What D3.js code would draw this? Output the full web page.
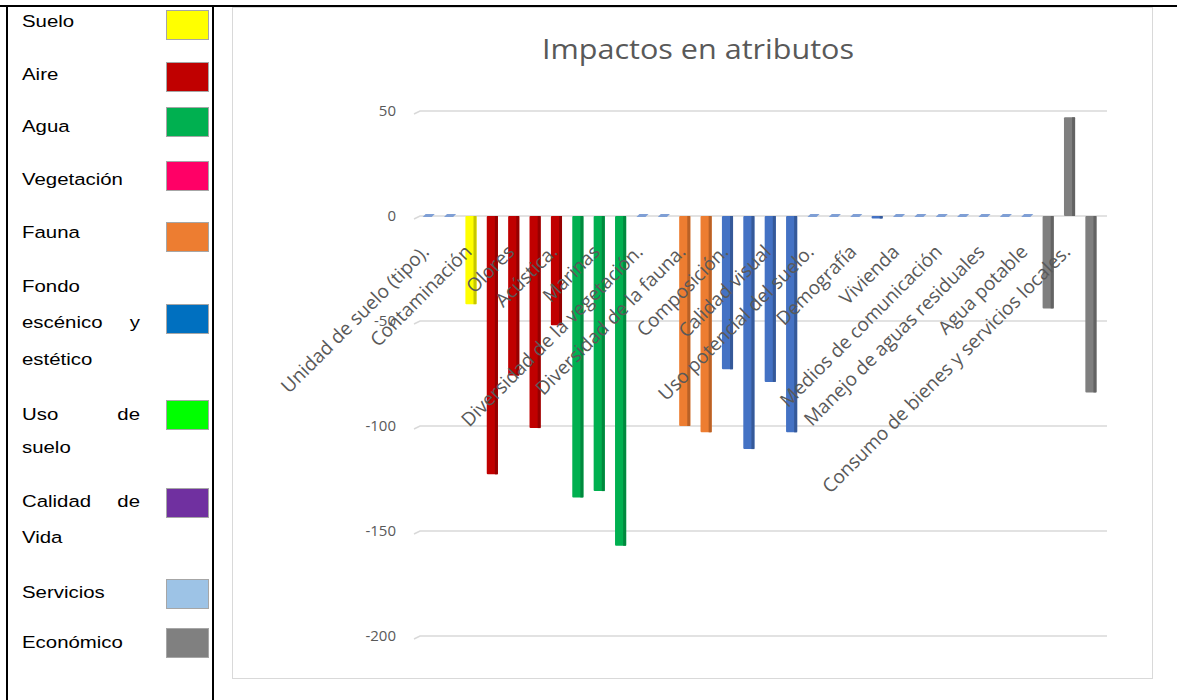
<!DOCTYPE html>
<html><head><meta charset="utf-8">
<script src="https://cdn.jsdelivr.net/npm/d3@7/dist/d3.min.js"></script>
<style>
html,body{margin:0;padding:0;background:#fff;}
svg{display:block;}
</style></head>
<body>
<svg id="c" width="1177" height="700"></svg>
<script>
// ---- data ----
const categories = ["Unidad de suelo (tipo).", "", "Contaminación", "", "Olores", "", "Acústica.", "", "Marinas", "",
  "Diversidad de la vegetación.", "", "Diversidad de la fauna.", "", "Composición.", "", "Calidad visual", "",
  "Uso potencial del suelo.", "", "Demografía", "", "Vivienda", "", "Medios de comunicación", "",
  "Manejo de aguas residuales", "", "Agua potable", "", "Consumo de bienes y servicios locales.", ""];
const values = [0, 0, -42, -123, -76, -101, -52, -134, -131, -157, 0, 0, -100, -103, -73, -111, -79, -103,
  0, 0, 0, -1, 0, 0, 0, 0, 0, 0, 0, -44, 47, -84];
const groups = ["Suelo","Suelo","Suelo","Aire","Aire","Aire","Aire","Agua","Agua","Agua",
  "Vegetación","Vegetación","Fauna","Fauna","Fondo","Fondo","Fondo","Fondo",
  "Otro","Otro","Otro","Otro","Otro","Otro","Otro","Otro","Otro","Otro","Otro",
  "Económico","Económico","Económico"];
const yTicks = [50, 0, -50, -100, -150, -200];
const title = "Impactos en atributos";
const legendLabels = ["Suelo","Aire","Agua","Vegetación","Fauna","Fondo escénico y estético","Uso de suelo","Calidad de Vida","Servicios","Económico"];
const legendColors = ["#ffff00","#c00000","#00b050","#ff0066","#ed7d31","#0070c0","#00ff00","#7030a0","#9dc3e6","#808080"];

// ---- styles ----
const barColor = {Suelo:"#ffff00", Aire:"#c00000", Agua:"#00b050", Vegetación:"#ff0066", Fauna:"#ed7d31",
  Fondo:"#4472c4", Otro:"#4472c4", Económico:"#7f7f7f"};

const svg = d3.select("#c");

// ---- table frame (legend cell) ----
svg.append("line").attr("x1",0).attr("x2",1177).attr("y1",6).attr("y2",6).attr("stroke","#000").attr("stroke-width",2);
svg.append("line").attr("x1",7).attr("x2",7).attr("y1",5).attr("y2",700).attr("stroke","#000").attr("stroke-width",2);
svg.append("line").attr("x1",213).attr("x2",213).attr("y1",5).attr("y2",700).attr("stroke","#000").attr("stroke-width",2);

// legend layout: lines per entry (left text, right text, baseline)
const legendLayout = [
  {lines:[["Suelo","",27]], sy:10},
  {lines:[["Aire","",80]], sy:62},
  {lines:[["Agua","",132]], sy:107},
  {lines:[["Vegetación","",185]], sy:161},
  {lines:[["Fauna","",238]], sy:222},
  {lines:[["Fondo","",292],["escénico","y",328],["estético","",365]], sy:304},
  {lines:[["Uso","de",420],["suelo","",453]], sy:400},
  {lines:[["Calidad","de",507],["Vida","",543]], sy:488},
  {lines:[["Servicios","",598]], sy:579},
  {lines:[["Económico","",648]], sy:628}
];
const lg = svg.append("g").attr("font-family","'Liberation Sans', Arial, sans-serif").attr("font-size",17).attr("fill","#000");
legendLabels.forEach((lab,i)=>{
  const L = legendLayout[i];
  L.lines.forEach(([a,b,yy])=>{
    lg.append("text").attr("transform",`translate(22,${yy}) scale(1.2,1)`).text(a);
    if(b) lg.append("text").attr("transform",`translate(140,${yy}) scale(1.2,1)`).attr("text-anchor","end").text(b);
  });
  lg.append("rect").attr("x",166.5).attr("y",L.sy+0.5).attr("width",42).attr("height",29)
    .attr("fill",legendColors[i]).attr("stroke","#a6a6a6").attr("stroke-width",1);
});

// ---- chart box ----
svg.append("rect").attr("x",232.5).attr("y",7.5).attr("width",920).attr("height",671)
  .attr("fill","#fff").attr("stroke","#d9d9d9").attr("stroke-width",1);

svg.append("text").attr("x",698).attr("y",59).attr("text-anchor","middle")
  .attr("font-family","'Open Sans', sans-serif").attr("font-size",28).attr("fill","#595959")
  .attr("textLength",312).attr("lengthAdjust","spacingAndGlyphs").text(title);

// ---- scales ----
const y = d3.scaleLinear().domain([-200, 50]).range([636, 111]);
const x = d3.scaleBand().domain(d3.range(categories.length)).range([417.5, 1101.6])
  .paddingInner(0.48).paddingOuter(0.24);
const gx0 = 416, gx1 = 1107;

// gridlines
const grid = svg.append("g");
yTicks.forEach(t=>{
  const yy = y(t);
  grid.append("path").attr("d",`M${gx0-2},${yy+3} L${gx0+4},${yy} L${gx1},${yy}`)
    .attr("fill","none").attr("stroke","#d9d9d9").attr("stroke-width",1.5);
});

// y axis labels
const yAxis = d3.axisLeft(y).tickValues(yTicks).tickSize(0).tickPadding(0).tickFormat(d => String(d));
const ya = svg.append("g").attr("transform","translate(396,0)").call(yAxis);
ya.select(".domain").remove();
ya.selectAll("text").attr("font-family","'Open Sans', sans-serif").attr("font-size",15).attr("fill","#595959");

// bars
const bw = x.bandwidth();
const y0 = y(0);
const bars = svg.append("g");
values.forEach((v,i)=>{
  const bx = x(i);
  const c = barColor[groups[i]];
  if(v === 0){
    bars.append("path").attr("d",`M${bx},${y0+1} L${bx+3},${y0-2} L${bx+bw+1},${y0-2} L${bx+bw-2},${y0+1} Z`)
      .attr("fill","#7f9fd5");
    return;
  }
  const top = Math.min(y(v), y0), h = Math.abs(y(v)-y0);
  bars.append("rect").attr("x",bx).attr("y",top).attr("width",bw).attr("height",Math.max(h,2.5))
    .attr("fill",c).attr("rx",1);
  bars.append("rect").attr("x",bx+bw-3).attr("y",top).attr("width",3).attr("height",Math.max(h,2.5))
    .attr("fill",d3.color(c).darker(0.7));
});

// x labels (every other shown, as in the source)
const xl = svg.append("g").attr("font-family","'Open Sans', sans-serif").attr("font-size",19).attr("fill","#595959");
categories.forEach((name,i)=>{
  if(!name) return;
  const cx = x(i) + bw/2 + 2;
  xl.append("text").attr("transform",`translate(${cx},${y0+37}) rotate(-45)`)
    .attr("text-anchor","end").text(name);
});
</script>
</body></html>
